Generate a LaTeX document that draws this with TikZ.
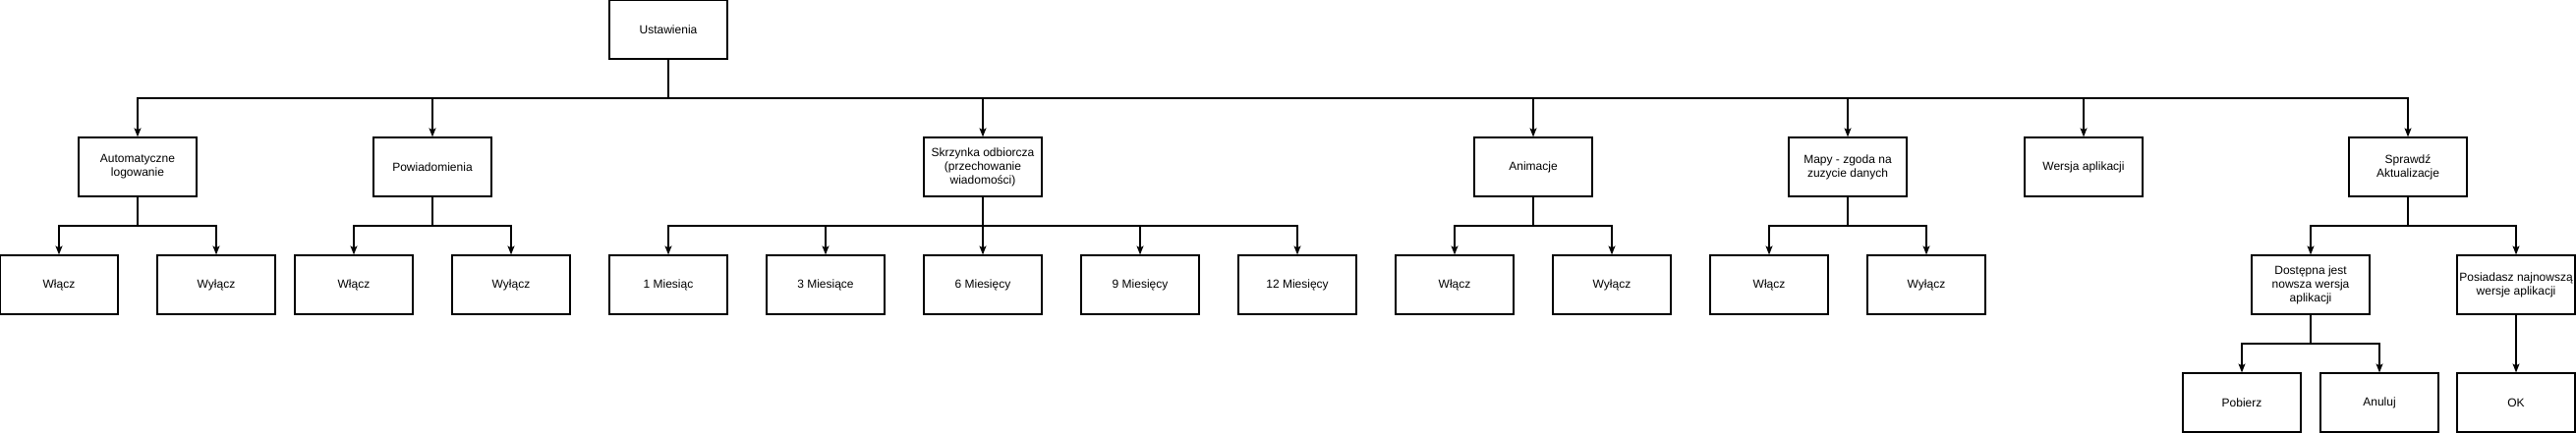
\documentclass[tikz,border=0pt]{standalone}
\usepackage{fontspec}
\setmainfont{Liberation Sans}
\usetikzlibrary{arrows.meta}
\tikzset{
  box/.style={draw, line width=1.2pt, rectangle, minimum width=120pt, minimum height=60pt,
    inner sep=0pt, align=center, font=\fontsize{12pt}{14pt}\selectfont},
  arr/.style={draw, line width=1.2pt, -{Stealth[length=9pt,width=7pt,inset=2pt]}}
}
\begin{document}
\begin{tikzpicture}[x=1pt,y=-1pt]
\useasboundingbox (0,0) rectangle (2621,441);
% level 1
\node[box] (u) at (680,30) {Ustawienia};
% level 2
\node[box] (auto) at (140,170) {Automatyczne\\logowanie};
\node[box] (pow) at (440,170) {Powiadomienia};
\node[box] (skrz) at (1000,170) {Skrzynka odbiorcza\\(przechowanie\\wiadomości)};
\node[box] (anim) at (1560,170) {Animacje};
\node[box] (mapy) at (1880,170) {Mapy - zgoda na\\zuzycie danych};
\node[box] (wers) at (2120,170) {Wersja aplikacji};
\node[box] (spr) at (2450,170) {Sprawdź\\Aktualizacje};
% level 3
\node[box] (w1) at (60,290) {Włącz};
\node[box] (y1) at (220,290) {Wyłącz};
\node[box] (w2) at (360,290) {Włącz};
\node[box] (y2) at (520,290) {Wyłącz};
\node[box] (m1) at (680,290) {1 Miesiąc};
\node[box] (m3) at (840,290) {3 Miesiące};
\node[box] (m6) at (1000,290) {6 Miesięcy};
\node[box] (m9) at (1160,290) {9 Miesięcy};
\node[box] (m12) at (1320,290) {12 Miesięcy};
\node[box] (w3) at (1480,290) {Włącz};
\node[box] (y3) at (1640,290) {Wyłącz};
\node[box] (w4) at (1800,290) {Włącz};
\node[box] (y4) at (1960,290) {Wyłącz};
\node[box] (dost) at (2351,290) {Dostępna jest\\nowsza wersja\\aplikacji};
\node[box] (posi) at (2560,290) {Posiadasz najnowszą\\wersje aplikacji};
% level 4
\node[box] (pob) at (2281,410) {Pobierz};
\node[box] (anul) at (2421,410) {Anuluj};
\node[box] (ok) at (2560,410) {OK};
% bus levels
\coordinate (b1) at (0,100);
\coordinate (b2) at (0,230);
\coordinate (b3) at (0,350);
% connectors
\foreach \c in {auto,pow,skrz,anim,mapy,wers,spr}
  \draw[arr] (u.south) -- (u.south |- b1) -| (\c.north);
\foreach \p/\c in {auto/w1,auto/y1,pow/w2,pow/y2,skrz/m1,skrz/m3,skrz/m6,skrz/m9,skrz/m12,anim/w3,anim/y3,mapy/w4,mapy/y4,spr/dost,spr/posi}
  \draw[arr] (\p.south) -- (\p.south |- b2) -| (\c.north);
\foreach \c in {pob,anul}
  \draw[arr] (dost.south) -- (dost.south |- b3) -| (\c.north);
\draw[arr] (posi.south) -- (ok.north);
\end{tikzpicture}
\end{document}
